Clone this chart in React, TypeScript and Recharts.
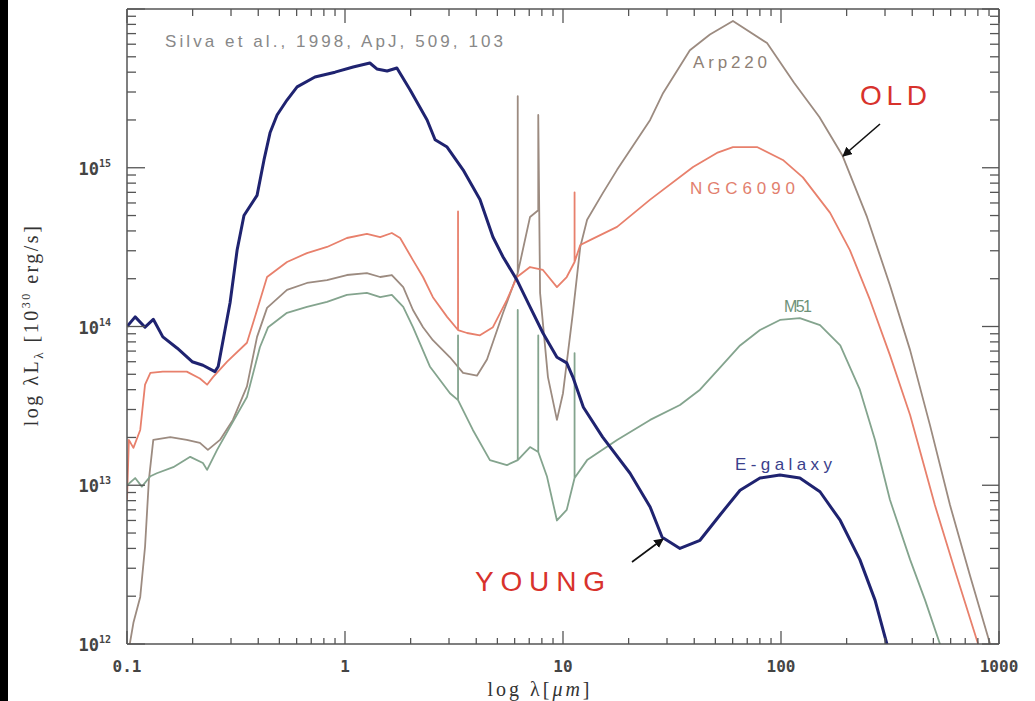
import React from "react";
import { LineChart, Line, XAxis, YAxis } from "recharts";

// wavelength in micron, luminosity in 10^30 erg/s
const egalLambda = [0.1, 0.109, 0.121, 0.132, 0.146, 0.17, 0.199, 0.223, 0.253, 0.262, 0.297, 0.32, 0.344, 0.395, 0.425, 0.453, 0.488, 0.542, 0.603, 0.728, 0.9, 1.09, 1.3, 1.4, 1.56, 1.73, 1.99, 2.38, 2.59, 2.94, 3.48, 4.16, 4.77, 5.31, 6.15, 7.06, 8.09, 9.38, 10.4, 11.1, 12.4, 15.2, 20.3, 25.1, 28.5, 34.4, 42.5, 52.5, 64.9, 80.1, 98.9, 122, 151, 187, 230, 270, 306, 333];
const egalL = [1.0e14, 1.15e14, 9.9e13, 1.11e14, 8.6e13, 7.3e13, 6.0e13, 5.7e13, 5.2e13, 5.6e13, 1.41e14, 3.03e14, 5.0e14, 6.7e14, 1.12e15, 1.66e15, 2.15e15, 2.67e15, 3.23e15, 3.73e15, 4.0e15, 4.31e15, 4.57e15, 4.19e15, 4.07e15, 4.25e15, 3.09e15, 2.0e15, 1.5e15, 1.35e15, 9.7e14, 6.3e14, 3.66e14, 2.74e14, 1.96e14, 1.33e14, 9.1e13, 6.4e13, 5.9e13, 4.8e13, 3.1e13, 2.01e13, 1.19e13, 7.3e12, 4.7e12, 4.0e12, 4.5e12, 6.5e12, 9.3e12, 1.11e13, 1.16e13, 1.11e13, 9.1e12, 6.0e12, 3.4e12, 1.89e12, 1.0e12, 6.4e11];

const arpLambda = [0.1, 0.107, 0.115, 0.121, 0.126, 0.132, 0.158, 0.188, 0.216, 0.235, 0.267, 0.306, 0.355, 0.395, 0.439, 0.542, 0.669, 0.827, 1.02, 1.26, 1.45, 1.64, 1.85, 2.05, 2.28, 2.53, 3.03, 3.48, 4.03, 4.48, 5.31, 6.2, 6.2, 6.2, 7.06, 7.7, 7.7, 7.85, 8.53, 9.38, 10.0, 11.1, 12.0, 12.9, 15.2, 17.7, 25.1, 28.8, 38.2, 47.2, 60.2, 86.3, 115, 150, 191, 248, 316, 391, 482, 596, 736, 910, 1000];
const arpL = [7.9e11, 1.36e12, 1.98e12, 4.1e12, 1.08e13, 1.93e13, 2.01e13, 1.93e13, 1.85e13, 1.67e13, 1.93e13, 2.58e13, 4.2e13, 8.6e13, 1.31e14, 1.7e14, 1.88e14, 1.96e14, 2.11e14, 2.17e14, 2.05e14, 2.11e14, 1.77e14, 1.27e14, 9.9e13, 8.2e13, 6.4e13, 5.1e13, 4.9e13, 6.2e13, 1.22e14, 2.17e14, 2.83e15, 2.17e14, 4.9e14, 5.4e14, 2.15e15, 1.63e14, 4.8e13, 2.58e13, 3.8e13, 1.22e14, 3.17e14, 4.7e14, 6.9e14, 9.7e14, 2.0e15, 2.96e15, 5.5e15, 6.9e15, 8.4e15, 6.1e15, 3.42e15, 2.09e15, 1.2e15, 4.9e14, 1.82e14, 7.1e13, 2.4e13, 7.5e12, 2.7e12, 1.0e12, 6.4e11];

const ngcLambda = [0.1, 0.102, 0.107, 0.115, 0.121, 0.128, 0.146, 0.188, 0.216, 0.233, 0.248, 0.288, 0.355, 0.395, 0.439, 0.542, 0.669, 0.827, 1.02, 1.26, 1.45, 1.64, 1.79, 2.05, 2.28, 2.53, 2.94, 3.3, 3.3, 3.3, 3.63, 4.16, 4.77, 5.53, 6.15, 7.06, 8.09, 9.38, 10.4, 11.3, 11.3, 11.3, 12.0, 13.3, 17.7, 25.1, 39.5, 50.8, 60.2, 77.6, 102, 126, 168, 207, 256, 316, 391, 508, 628, 802, 910];
const ngcL = [8.1e12, 1.93e13, 1.72e13, 2.23e13, 4.3e13, 5.1e13, 5.2e13, 5.2e13, 4.7e13, 4.3e13, 4.8e13, 6.0e13, 7.9e13, 1.27e14, 2.05e14, 2.55e14, 2.9e14, 3.17e14, 3.61e14, 3.83e14, 3.66e14, 3.88e14, 3.61e14, 2.62e14, 2.05e14, 1.53e14, 1.15e14, 9.5e13, 5.3e14, 9.5e13, 9.1e13, 8.8e13, 9.9e13, 1.47e14, 2.05e14, 2.37e14, 2.27e14, 1.77e14, 2.05e14, 2.55e14, 7.0e14, 2.55e14, 3.26e14, 3.5e14, 4.24e14, 6.3e14, 1.01e15, 1.24e15, 1.35e15, 1.35e15, 1.12e15, 8.7e14, 5.2e14, 3.03e14, 1.47e14, 6.6e13, 2.77e13, 7.5e12, 2.9e12, 1.0e12, 5.9e11];

const m51Lambda = [0.1, 0.109, 0.117, 0.128, 0.137, 0.163, 0.195, 0.223, 0.233, 0.259, 0.297, 0.355, 0.407, 0.444, 0.542, 0.669, 0.827, 1.02, 1.26, 1.45, 1.64, 1.85, 2.05, 2.45, 3.03, 3.3, 3.3, 3.3, 3.86, 4.62, 5.53, 6.2, 6.2, 6.2, 7.06, 7.7, 7.7, 7.7, 8.45, 9.38, 10.4, 11.3, 11.3, 11.3, 12.9, 17.7, 25.1, 34.4, 42.5, 52.5, 64.9, 80.1, 98.9, 122, 151, 187, 230, 270, 316, 391, 458, 536, 628];
const m51L = [1.0e13, 1.11e13, 9.8e12, 1.14e13, 1.19e13, 1.3e13, 1.51e13, 1.38e13, 1.25e13, 1.67e13, 2.33e13, 3.6e13, 7.4e13, 9.9e13, 1.22e14, 1.33e14, 1.43e14, 1.58e14, 1.63e14, 1.53e14, 1.58e14, 1.33e14, 9.9e13, 5.6e13, 3.8e13, 3.44e13, 8.8e13, 3.44e13, 2.23e13, 1.44e13, 1.34e13, 1.44e13, 1.27e14, 1.44e13, 1.74e13, 1.62e13, 8.8e13, 1.62e13, 1.13e13, 6.0e12, 7.0e12, 1.11e13, 6.8e13, 1.11e13, 1.44e13, 1.93e13, 2.58e13, 3.2e13, 4.0e13, 5.5e13, 7.6e13, 9.5e13, 1.1e14, 1.13e14, 1.02e14, 7.6e13, 4.0e13, 1.93e13, 8.1e12, 3.4e12, 1.89e12, 1.0e12, 5.1e11];

// axes
const majorX = [0.1, 1, 10, 100, 1000];
const xLabels = ["0.1", "1", "10", "100", "1000"];
const majorY = [1e12, 1e13, 1e14, 1e15, 1e16];
const yExponents = ["12", "13", "14", "15", ""];
const minorSteps = [2, 3, 4, 5, 6, 7, 8, 9];

const xTicks = majorX.flatMap((m, i) => (i < majorX.length - 1 ? [m, ...minorSteps.map((k) => k * m)] : [m]));
const yTicks = majorY.flatMap((m, i) => (i < majorY.length - 1 ? [m, ...minorSteps.map((k) => k * m)] : [m]));

const toPoints = (lam: number[], lum: number[]) => lam.map((l, i) => ({ lambda: l, L: lum[i] }));

const AXIS = "#555";
const tickFont = { fontFamily: "DejaVu Sans Mono", fontWeight: 700, fontSize: 16, fill: "#444" };

const BottomTick = ({ x, y, payload }: any) => {
  const i = majorX.indexOf(payload.value);
  return (
    <g>
      <line x1={x} x2={x} y1={y} y2={y - (i >= 0 ? 13 : 6)} stroke={AXIS} strokeWidth={1.3} />
      {i >= 0 && (
        <text x={x} y={y + 28} textAnchor="middle" style={tickFont}>
          {xLabels[i]}
        </text>
      )}
    </g>
  );
};

const TopTick = ({ x, y, payload }: any) => {
  const major = majorX.includes(payload.value);
  return <line x1={x} x2={x} y1={y} y2={y + (major ? 14 : 7)} stroke={AXIS} strokeWidth={1.3} />;
};

const LeftTick = ({ x, y, payload }: any) => {
  const i = majorY.indexOf(payload.value);
  return (
    <g>
      <line x1={x} x2={x + (i >= 0 ? 18 : 9)} y1={y} y2={y} stroke={AXIS} strokeWidth={1.3} />
      {i >= 0 && yExponents[i] && (
        <text x={x - 16} y={y + 7} textAnchor="end" style={{ ...tickFont, fontSize: 17 }}>
          10
          <tspan dy={-8} fontSize={10}>
            {yExponents[i]}
          </tspan>
        </text>
      )}
    </g>
  );
};

const RightTick = ({ x, y, payload }: any) => {
  const major = majorY.includes(payload.value);
  return <line x1={x} x2={x - (major ? 17 : 9)} y1={y} y2={y} stroke={AXIS} strokeWidth={1.3} />;
};

const series = [
  { name: "Arp220", data: toPoints(arpLambda, arpL), color: "#9c8b80", width: 1.8 },
  { name: "NGC6090", data: toPoints(ngcLambda, ngcL), color: "#e8806c", width: 1.8 },
  { name: "M51", data: toPoints(m51Lambda, m51L), color: "#84a48e", width: 1.8 },
  { name: "E-galaxy", data: toPoints(egalLambda, egalL), color: "#1f2370", width: 3 },
];

export default function App() {
  return (
    <div style={{ position: "absolute", left: 0, top: 0, width: 1035, height: 701, background: "#fff" }}>
      <div style={{ position: "absolute", left: 0, top: 0, width: 8, height: 701, background: "#000" }} />
      <LineChart width={1035} height={701} margin={{ top: 8, right: 35, bottom: 56, left: 126 }}>
        <XAxis
          xAxisId="b"
          type="number"
          dataKey="lambda"
          scale="log"
          domain={[0.1, 1000]}
          ticks={xTicks}
          interval={0}
          height={1}
          tickSize={0}
          tickMargin={0}
          tickLine={false}
          tick={<BottomTick />}
          axisLine={{ stroke: AXIS, strokeWidth: 1.5 }}
          allowDataOverflow
        />
        <XAxis
          xAxisId="t"
          orientation="top"
          type="number"
          dataKey="lambda"
          scale="log"
          domain={[0.1, 1000]}
          ticks={xTicks}
          interval={0}
          height={1}
          tickSize={0}
          tickMargin={0}
          tickLine={false}
          tick={<TopTick />}
          axisLine={{ stroke: AXIS, strokeWidth: 1.5 }}
          allowDataOverflow
        />
        <YAxis
          yAxisId="l"
          type="number"
          dataKey="L"
          scale="log"
          domain={[1e12, 1e16]}
          ticks={yTicks}
          interval={0}
          width={1}
          tickSize={0}
          tickMargin={0}
          tickLine={false}
          tick={<LeftTick />}
          axisLine={{ stroke: AXIS, strokeWidth: 1.5 }}
          allowDataOverflow
        />
        <YAxis
          yAxisId="r"
          orientation="right"
          type="number"
          dataKey="L"
          scale="log"
          domain={[1e12, 1e16]}
          ticks={yTicks}
          interval={0}
          width={1}
          tickSize={0}
          tickMargin={0}
          tickLine={false}
          tick={<RightTick />}
          axisLine={{ stroke: AXIS, strokeWidth: 1.5 }}
          allowDataOverflow
        />
        {series.map((s) => (
          <Line
            key={s.name}
            xAxisId="b"
            yAxisId="l"
            data={s.data}
            dataKey="L"
            type="linear"
            stroke={s.color}
            strokeWidth={s.width}
            strokeLinejoin="round"
            dot={false}
            activeDot={false}
            isAnimationActive={false}
          />
        ))}
      </LineChart>

      <svg width={1035} height={701} style={{ position: "absolute", left: 0, top: 0, pointerEvents: "none" }}>
        <defs>
          <marker id="head" viewBox="0 0 10 10" refX="9" refY="5" markerWidth="6" markerHeight="6" orient="auto">
            <path d="M0,0 L10,5 L0,10 z" fill="#111" />
          </marker>
        </defs>
        <text x={165} y={47} fontFamily="Liberation Sans" fontSize={17} fill="#888" textLength={338} lengthAdjust="spacing">
          Silva et al., 1998, ApJ, 509, 103
        </text>
        <text x={693} y={68} fontFamily="Liberation Sans" fontSize={17} fill="#8e7f75" textLength={74}>Arp220</text>
        <text x={690} y={194} fontFamily="Liberation Sans" fontSize={17} fill="#e2806e" textLength={105}>NGC6090</text>
        <text x={784} y={312} fontFamily="Liberation Sans" fontSize={16} fill="#6e9279" textLength={28}>M51</text>
        <text x={735} y={470} fontFamily="Liberation Sans" fontSize={17} fill="#3b3f8c" textLength={97}>E-galaxy</text>
        <text x={860} y={105} fontFamily="Liberation Sans" fontSize={28} fill="#d8322c" textLength={67}>OLD</text>
        <text x={475} y={591} fontFamily="Liberation Sans" fontSize={28} fill="#d8322c" textLength={130}>YOUNG</text>
        <line x1={880} y1={124} x2={843} y2={156} stroke="#111" strokeWidth={1.6} markerEnd="url(#head)" />
        <line x1={632} y1={562} x2={663} y2={539} stroke="#111" strokeWidth={1.6} markerEnd="url(#head)" />
        <text
          transform="translate(38,325) rotate(-90)"
          textAnchor="middle"
          fontFamily="Liberation Serif"
          fontSize={20}
          letterSpacing={2.5}
          fill="#333"
        >
          log λL<tspan dy={5} fontSize={13}>λ</tspan>
          <tspan dy={-5}> [10</tspan>
          <tspan dy={-8} fontSize={12}>30</tspan>
          <tspan dy={8}> erg/s]</tspan>
        </text>
        <text x={540} y={696} textAnchor="middle" fontFamily="Liberation Serif" fontSize={20} letterSpacing={3} fill="#333">
          log λ[<tspan fontStyle="italic">μm</tspan>]
        </text>
      </svg>
    </div>
  );
}
